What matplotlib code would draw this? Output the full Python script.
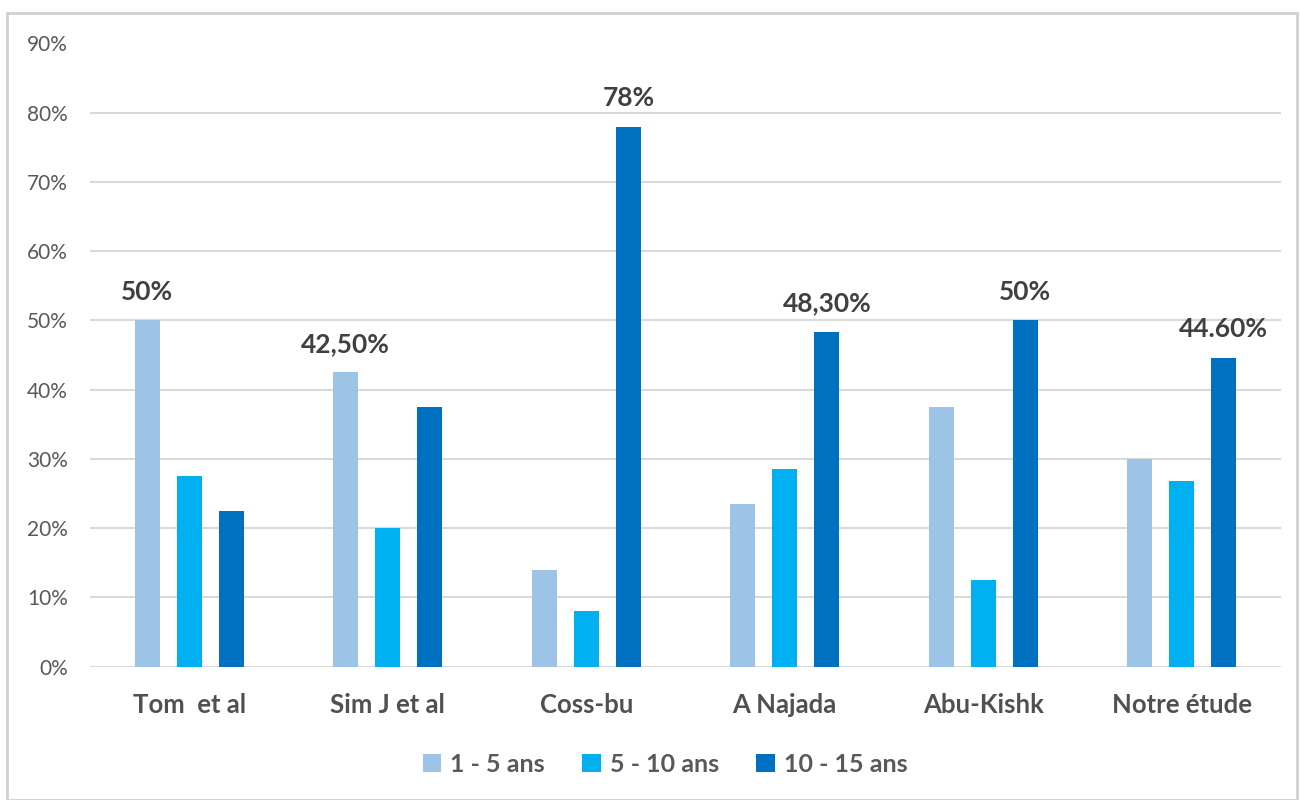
import matplotlib
matplotlib.use("Agg")
import matplotlib.pyplot as plt
from matplotlib.patches import Rectangle
from matplotlib.ticker import FuncFormatter
import numpy as np

plt.rcParams['font.family'] = ['Lato', 'DejaVu Sans']

categories = ["Tom  et al", "Sim J et al", "Coss-bu", "A Najada", "Abu-Kishk", "Notre étude"]
series_names = ["1 - 5 ans", "5 - 10 ans", "10 - 15 ans"]
ans_1_5 = [0.50, 0.425, 0.14, 0.235, 0.375, 0.30]
ans_5_10 = [0.275, 0.20, 0.08, 0.285, 0.125, 0.268]
ans_10_15 = [0.225, 0.375, 0.78, 0.483, 0.50, 0.446]
colors = ["#9DC3E6", "#00B0F0", "#0070C0"]

# value labels shown above selected bars: (category index, series index, text)
bar_labels = [
    (0, 0, "50%"),
    (1, 0, "42,50%"),
    (2, 2, "78%"),
    (3, 2, "48,30%"),
    (4, 2, "50%"),
    (5, 2, "44.60%"),
]

W, H = 1300, 800
fig = plt.figure(figsize=(W / 100, H / 100), dpi=100)
fig.patch.set_facecolor("white")

# chart frame
fig.patches.append(Rectangle((7 / W, 0 / H), 1290 / W, (H - 13) / H,
                             transform=fig.transFigure, fill=False,
                             edgecolor="#D0D0D0", linewidth=2))

ax_left, ax_right = 90, 1281
ax_top, ax_bottom = 43.5, 666.7
ax = fig.add_axes([ax_left / W, 1 - ax_bottom / H,
                   (ax_right - ax_left) / W, (ax_bottom - ax_top) / H])

x = np.arange(len(categories))
width = 0.126
step = 0.212
all_series = [ans_1_5, ans_5_10, ans_10_15]
for j, (vals, name, c) in enumerate(zip(all_series, series_names, colors)):
    ax.bar(x + (j - 1) * step, vals, width=width, color=c, label=name, zorder=3)

for ci, si, txt in bar_labels:
    v = all_series[si][ci]
    ax.annotate(txt, (x[ci] + (si - 1) * step, v), xytext=(0, 12),
                textcoords="offset points", ha="center", va="bottom",
                fontsize=19, fontweight="bold", color="#404040")

ax.set_xlim(-0.5, len(categories) - 0.5)
ax.set_ylim(0, 0.9)
ax.set_yticks(np.arange(0, 0.91, 0.1))
ax.yaxis.set_major_formatter(FuncFormatter(lambda v, p: f"{v * 100:.0f}%"))
ax.grid(axis="y", color="#D9D9D9", linewidth=1.5, zorder=0)
ax.set_axisbelow(True)
for s in ax.spines.values():
    s.set_visible(False)
ax.tick_params(axis="y", length=0, pad=16, labelsize=15, labelcolor="#595959")
ax.tick_params(axis="x", length=0, pad=19, labelsize=18.5, labelcolor="#505050")
ax.set_xticks(x)
ax.set_xticklabels(categories, fontweight="bold")

leg = fig.legend(loc="center", bbox_to_anchor=(665 / W, 1 - 764 / H), ncol=3,
                 frameon=False, fontsize=18, handlelength=0.75, handleheight=0.75,
                 handletextpad=0.35, columnspacing=1.5)
for t in leg.get_texts():
    t.set_color("#595959")
    t.set_fontweight("bold")

fig.savefig("out.png", dpi=100, facecolor="white")
